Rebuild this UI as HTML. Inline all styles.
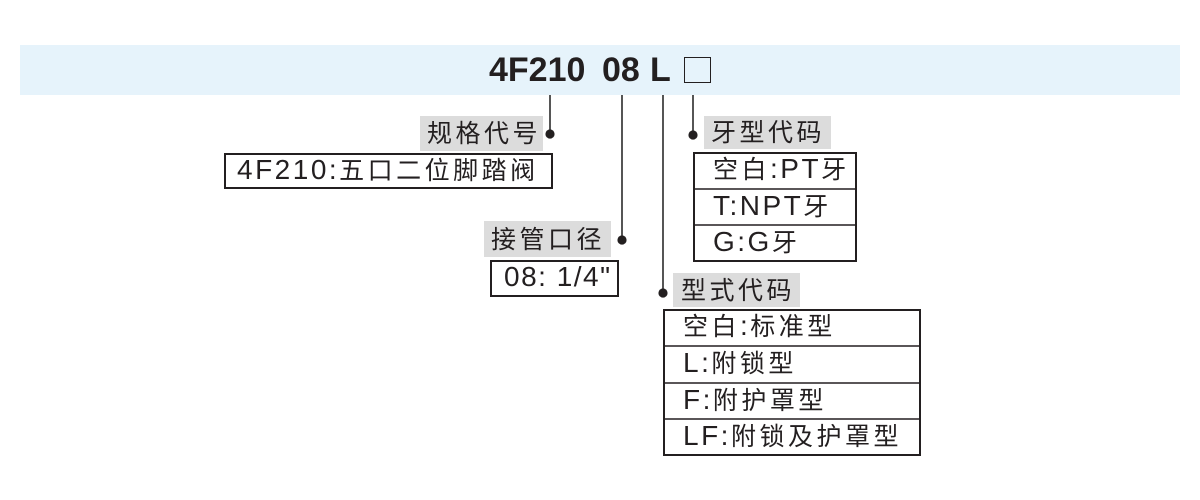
<!DOCTYPE html>
<html>
<head>
<meta charset="utf-8">
<style>
  html,body{margin:0;padding:0;background:#fff;}
  body{width:1200px;height:500px;position:relative;overflow:hidden;
       font-family:"Liberation Sans","Noto Sans CJK SC",sans-serif;color:#231f20;}
  .band{position:absolute;left:20px;top:45px;width:1160px;height:50px;background:#e6f3fb;}
  .t{position:absolute;font-weight:bold;font-size:34px;line-height:50px;top:45px;white-space:nowrap;color:#231f20;}
  .sq{position:absolute;left:684px;top:57px;width:27px;height:26px;box-sizing:border-box;border:1.6px solid #231f20;
      color:transparent;font-size:20px;line-height:24px;overflow:hidden;text-align:center;}
  .lab{position:absolute;background:#dcdcdc;}
  .tx{position:absolute;font-size:25px;letter-spacing:3.5px;white-space:nowrap;}
  .l{font-size:28px;letter-spacing:2.5px;line-height:1;}
  svg{position:absolute;left:0;top:0;}
</style>
</head>
<body>
<div class="band"></div>
<div class="t" style="left:489px;">4F210</div>
<div class="t" style="left:602px;">08</div>
<div class="t" style="left:650px;">L</div>
<div class="sq">□</div>

<div class="lab" style="left:420px;top:116px;width:123px;height:35px;"></div>
<div class="lab" style="left:704px;top:116px;width:127px;height:33px;"></div>
<div class="lab" style="left:484px;top:221px;width:127px;height:36px;"></div>
<div class="lab" style="left:673px;top:273px;width:127px;height:34px;"></div>

<svg width="1200" height="500" viewBox="0 0 1200 500">
  <g stroke="#2b2b2b" stroke-width="1.6" fill="none">
    <line x1="550" y1="95" x2="550" y2="134"/>
    <line x1="622" y1="95" x2="622" y2="240"/>
    <line x1="663" y1="95" x2="663" y2="293"/>
    <line x1="693" y1="95" x2="693" y2="135"/>
  </g>
  <g fill="#231f20">
    <circle cx="550" cy="134" r="4.6"/>
    <circle cx="622" cy="240" r="4.6"/>
    <circle cx="663" cy="293" r="4.6"/>
    <circle cx="693" cy="135" r="4.6"/>
  </g>
  <g stroke="#231f20" stroke-width="2" fill="none">
    <rect x="225" y="154" width="327" height="34"/>
    <rect x="491" y="261" width="127" height="35"/>
    <rect x="694" y="153" width="162" height="108"/>
    <rect x="664" y="310" width="256" height="145"/>
  </g>
  <g stroke="#231f20" stroke-width="1.5">
    <line x1="694" y1="189" x2="856" y2="189"/>
    <line x1="694" y1="225" x2="856" y2="225"/>
    <line x1="664" y1="346" x2="920" y2="346"/>
    <line x1="664" y1="383" x2="920" y2="383"/>
    <line x1="664" y1="419" x2="920" y2="419"/>
  </g>
</svg>

<div class="tx" style="left:427px;top:117px;line-height:35px;">规格代号</div>
<div class="tx" style="left:711px;top:116px;line-height:35px;">牙型代码</div>
<div class="tx" style="left:491px;top:222px;line-height:36px;">接管口径</div>
<div class="tx" style="left:681px;top:273px;line-height:36px;">型式代码</div>

<div class="tx" style="left:237px;top:153px;line-height:36px;"><span class="l">4F210:</span>五口二位脚踏阀</div>
<div class="tx" style="left:504px;top:260px;line-height:37px;"><span class="l" style="letter-spacing:1.5px;">08: 1/4"</span></div>

<div class="tx" style="left:713px;top:152px;line-height:37px;">空白<span class="l">:PT</span>牙</div>
<div class="tx" style="left:713px;top:189px;line-height:36px;"><span class="l">T:NPT</span>牙</div>
<div class="tx" style="left:713px;top:225px;line-height:37px;"><span class="l">G:G</span>牙</div>

<div class="tx" style="left:683px;top:309px;line-height:37px;">空白<span class="l">:</span>标准型</div>
<div class="tx" style="left:683px;top:346px;line-height:37px;"><span class="l">L:</span>附锁型</div>
<div class="tx" style="left:683px;top:383px;line-height:36px;"><span class="l">F:</span>附护罩型</div>
<div class="tx" style="left:683px;top:419px;line-height:37px;"><span class="l">LF:</span>附锁及护罩型</div>
</body>
</html>
